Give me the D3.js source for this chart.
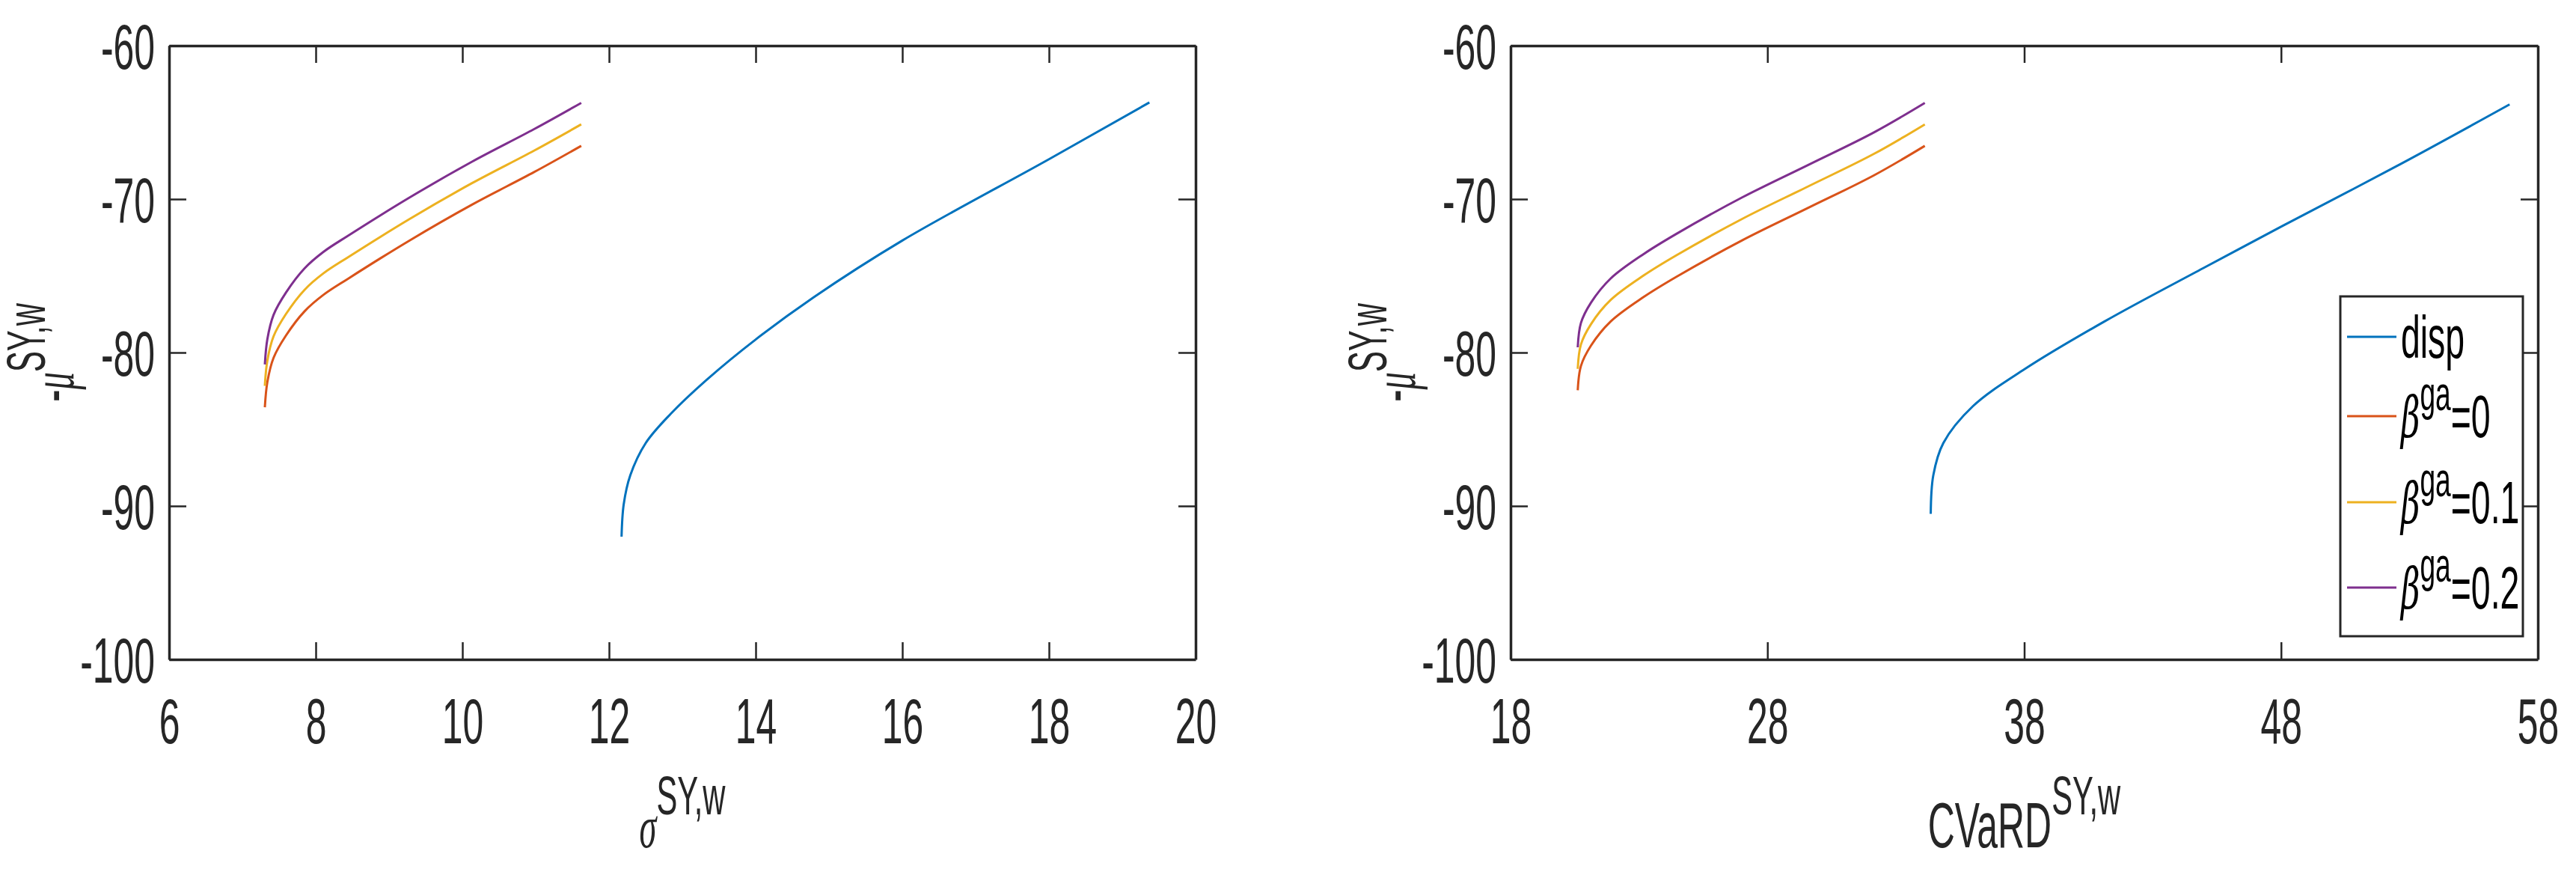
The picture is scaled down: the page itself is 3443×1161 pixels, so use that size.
<!DOCTYPE html>
<html><head><meta charset="utf-8">
<script src="https://cdn.jsdelivr.net/npm/d3@7"></script>
<style>body{margin:0;background:#fff}svg{display:block}</style>
</head><body>
<script>
// ---- data ----
const seriesNames = ["disp", "β=0", "β=0.1", "β=0.2"];
const legendSuffix = ["", "=0", "=0.1", "=0.2"];
const colors = ["#0072BD", "#D95319", "#EDB120", "#7E2F8E"];
const yTicks = [-100, -90, -80, -70, -60];
const xTicksL = [6, 8, 10, 12, 14, 16, 18, 20];
const xTicksR = [18, 28, 38, 48, 58];

// left panel (sigma)
const dispL_x = [12.171, 12.20, 12.29, 12.50, 12.84, 13.35, 14.0, 14.79, 16.0, 18.0, 19.37];
const dispL_y = [-92.0, -89.9, -88.0, -85.9, -84.0, -81.7, -79.15, -76.4, -72.7, -67.4, -63.7];
const betaL_x = [7.306, 7.340, 7.425, 7.594, 7.848, 8.102, 8.440, 9.286, 10.132, 10.978, 11.621];
const beta0L_y = [-83.57, -81.93, -80.34, -78.89, -77.31, -76.25, -75.19, -72.68, -70.36, -68.24, -66.53];
const beta1L_y = [-82.17, -80.53, -78.94, -77.49, -75.91, -74.85, -73.79, -71.28, -68.96, -66.84, -65.13];
const beta2L_y = [-80.77, -79.13, -77.54, -76.09, -74.51, -73.45, -72.39, -69.88, -67.56, -65.44, -63.73];

// right panel (CVaRD)
const dispR_x = [34.36, 34.46, 34.85, 36.0, 38.0, 41.13, 44.97, 48.0, 52.67, 56.9];
const dispR_y = [-90.51, -88.0, -85.9, -83.5, -81.1, -77.97, -74.5, -71.8, -67.7, -63.83];
const betaR_x = [20.615, 20.74, 21.13, 21.90, 23.18, 24.46, 27.03, 29.59, 32.15, 34.13];
const beta0R_y = [-82.46, -80.87, -79.55, -77.97, -76.38, -75.06, -72.68, -70.57, -68.45, -66.53];
const beta1R_y = [-81.06, -79.47, -78.15, -76.57, -74.98, -73.66, -71.28, -69.17, -67.05, -65.13];
const beta2R_y = [-79.66, -78.07, -76.75, -75.17, -73.58, -72.26, -69.88, -67.77, -65.65, -63.73];

// ---- drawing ----
const W = 3443, H = 1161, SX = 0.58, TC = "#262626";
const svg = d3.select("body").append("svg").attr("width", W).attr("height", H)
  .style("font-family", "'Liberation Sans', Arial, sans-serif");

function zip(xs, ys) { return xs.map((x, i) => [x, ys[i]]); }

function panel(cfg) {
  const {x0, x1, y0, y1, xDom, xTicks, series, xlab, legend} = cfg;
  const x = d3.scaleLinear().domain(xDom).range([x0, x1]);
  const y = d3.scaleLinear().domain([-100, -60]).range([y1, y0]);
  const g = svg.append("g");
  const fmt = d => String(d);
  const styleAxis = (sel) => {
    sel.selectAll("path").attr("stroke", TC).attr("stroke-width", 3.5);
    sel.selectAll(".tick line").attr("stroke", TC).attr("stroke-width", 2.5);
    sel.selectAll("text").attr("fill", TC).style("font-size", "86px");
  };
  const bx = g.append("g").attr("transform", `translate(0,${y1})`)
    .call(d3.axisBottom(x).tickValues(xTicks).tickSize(-23).tickSizeOuter(0).tickPadding(51).tickFormat(fmt));
  styleAxis(bx);
  bx.selectAll("text").attr("transform", `scale(${SX},1)`);
  const tx = g.append("g").attr("transform", `translate(0,${y0})`)
    .call(d3.axisTop(x).tickValues(xTicks).tickSize(-23).tickSizeOuter(0).tickFormat(""));
  styleAxis(tx);
  const ly = g.append("g").attr("transform", `translate(${x0},0)`)
    .call(d3.axisLeft(y).tickValues(yTicks).tickSize(-23).tickSizeOuter(0).tickFormat(fmt));
  styleAxis(ly);
  ly.selectAll("text").attr("x", -19 / SX).attr("transform", `scale(${SX},1)`).attr("dy", "0.36em");
  const ry = g.append("g").attr("transform", `translate(${x1},0)`)
    .call(d3.axisRight(y).tickValues(yTicks).tickSize(-23).tickSizeOuter(0).tickFormat(""));
  styleAxis(ry);

  const line = d3.line().x(d => x(d[0])).y(d => y(d[1])).curve(d3.curveCatmullRom.alpha(0.5));
  series.forEach((s, i) => {
    g.append("path").datum(s).attr("d", line).attr("fill", "none")
      .attr("stroke", colors[i]).attr("stroke-width", 3);
  });

  // x label
  const cx = (x0 + x1) / 2;
  const xl = g.append("text").attr("transform", `translate(${cx},1132) scale(${SX},1)`)
    .attr("text-anchor", "middle").attr("fill", TC).style("font-size", "86px");
  if (xlab === "sigma") {
    xl.append("tspan").text("σ").style("font-family", "'Liberation Serif', serif").style("font-style", "italic").style("font-size", "80px");
  } else {
    xl.append("tspan").text("CVaRD");
  }
  xl.append("tspan").attr("dy", -44).style("font-size", "72px").text("SY,w");

  // y label
  const cy = (y0 + y1) / 2;
  const yl = g.append("text").attr("transform", `translate(${x0 - 128},${cy}) rotate(-90) scale(${SX},1)`)
    .attr("text-anchor", "middle").attr("fill", TC).style("font-size", "86px");
  yl.append("tspan").text("-");
  yl.append("tspan").text("μ").style("font-family", "'Liberation Serif', serif").style("font-style", "italic").style("font-size", "80px");
  yl.append("tspan").attr("dy", -38).style("font-size", "72px").text("SY,w");

  if (legend) {
    const lx0 = 3128, lx1 = 3372, ly0 = 396, ly1 = 850;
    g.append("rect").attr("x", lx0).attr("y", ly0).attr("width", lx1 - lx0).attr("height", ly1 - ly0)
      .attr("fill", "#fff").attr("stroke", TC).attr("stroke-width", 3);
    const rows = [450, 556, 671, 785];
    seriesNames.forEach((nm, i) => {
      g.append("line").attr("x1", 3137).attr("x2", 3203).attr("y1", rows[i]).attr("y2", rows[i])
        .attr("stroke", colors[i]).attr("stroke-width", 3);
      const t = g.append("text").attr("transform", `translate(3209,${rows[i] + 28}) scale(${SX},1)`)
        .attr("fill", "#000").style("font-size", "80px");
      if (i === 0) t.text("disp");
      else {
        t.append("tspan").text("β").style("font-family", "'DejaVu Serif', serif").style("font-style", "italic").style("font-weight", "200").style("font-size", "76px");
        t.append("tspan").attr("dy", -36).style("font-size", "64px").text("ga");
        t.append("tspan").attr("dy", 36).text(legendSuffix[i]);
      }
    });
  }
}

panel({x0: 226, x1: 1598, y0: 61, y1: 881, xDom: [6, 20], xTicks: xTicksL, xlab: "sigma",
  series: [zip(dispL_x, dispL_y), zip(betaL_x, beta0L_y), zip(betaL_x, beta1L_y), zip(betaL_x, beta2L_y)]});
panel({x0: 2019, x1: 3392, y0: 61, y1: 881, xDom: [18, 58], xTicks: xTicksR, xlab: "cvar", legend: true,
  series: [zip(dispR_x, dispR_y), zip(betaR_x, beta0R_y), zip(betaR_x, beta1R_y), zip(betaR_x, beta2R_y)]});
</script>
</body></html>
